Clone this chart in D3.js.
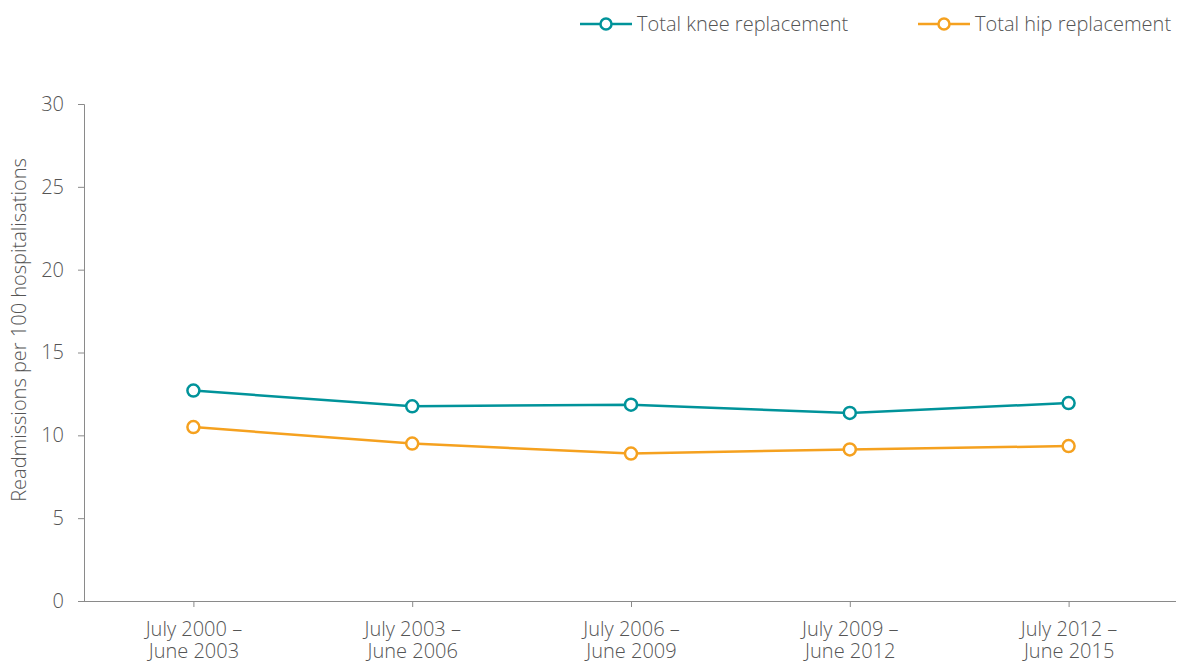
<!DOCTYPE html>
<html>
<head>
<meta charset="utf-8">
<script src="https://cdn.jsdelivr.net/npm/d3@7"></script>
<style>
  body { margin: 0; background: #fff; }
  svg text { font-family: "Open Sans", Roboto, sans-serif; font-weight: 300; fill: #555; }
</style>
</head>
<body>
<svg id="chart" width="1178" height="661"></svg>
<script>
// data
const periods = [
    ["July 2000 –", "June 2003"],
    ["July 2003 –", "June 2006"],
    ["July 2006 –", "June 2009"],
    ["July 2009 –", "June 2012"],
    ["July 2012 –", "June 2015"]
];
const kneeValues = [12.7, 11.75, 11.85, 11.35, 11.95];
const hipValues = [10.5, 9.5, 8.9, 9.15, 9.35];
const seriesNames = ["Total knee replacement", "Total hip replacement"];
const seriesColors = ["#00939a", "#f5a11f"];
const yTicks = [0, 5, 10, 15, 20, 25, 30];

const svg = d3.select("#chart");
const margin = { left: 84, right: 0 };
const W = 1178;
const FS = "20px";

const x = d3.scalePoint()
    .domain(d3.range(periods.length))
    .range([margin.left, W - margin.right])
    .padding(0.5);
const y = d3.scaleLinear().domain([0, 30]).range([601, 104]);

// y axis
const yAxis = svg.append("g")
    .attr("transform", `translate(${margin.left},0)`)
    .call(d3.axisLeft(y).tickValues(yTicks).tickSize(6).tickPadding(14));
yAxis.select(".domain").attr("stroke", "#8a8a8a");
yAxis.selectAll(".tick line").attr("stroke", "#8a8a8a");
yAxis.selectAll(".tick text").style("font-size", FS).attr("fill", "#555");

// x axis
const xAxis = svg.append("g")
    .attr("transform", `translate(0,${y(0)})`)
    .call(d3.axisBottom(x).tickSize(6).tickFormat(() => ""));
xAxis.select(".domain").attr("d", `M${margin.left - 6},0.5H${W - 2}`).attr("stroke", "#8a8a8a");
xAxis.selectAll(".tick line").attr("stroke", "#8a8a8a");
xAxis.selectAll(".tick").each(function (d) {
    const t = d3.select(this).append("text")
        .attr("text-anchor", "middle")
        .attr("fill", "#555")
        .style("font-size", FS);
    periods[d].forEach((line, i) => {
        t.append("tspan").attr("x", 0).attr("y", 35 + i * 22).text(line);
    });
});

// y title
svg.append("text")
    .attr("transform", `translate(26,330) rotate(-90)`)
    .attr("text-anchor", "middle")
    .style("font-size", FS)
    .text("Readmissions per 100 hospitalisations");

// lines
const line = d3.line().x((d, i) => x(i)).y(d => y(d));
[kneeValues, hipValues].forEach((vals, s) => {
    const g = svg.append("g");
    g.append("path")
        .attr("d", line(vals))
        .attr("fill", "none")
        .attr("stroke", seriesColors[s])
        .attr("stroke-width", 2.5);
    g.selectAll("circle").data(vals).join("circle")
        .attr("cx", (d, i) => x(i))
        .attr("cy", d => y(d))
        .attr("r", 6)
        .attr("fill", "#fff")
        .attr("stroke", seriesColors[s])
        .attr("stroke-width", 2.5);
});

// legend
const legendX = [580, 918];
seriesNames.forEach((name, s) => {
    const g = svg.append("g").attr("transform", `translate(${legendX[s]},24)`);
    g.append("line").attr("x1", 0).attr("x2", 52)
        .attr("stroke", seriesColors[s]).attr("stroke-width", 2.5);
    g.append("circle").attr("cx", 26).attr("r", 5.5)
        .attr("fill", "#fff").attr("stroke", seriesColors[s]).attr("stroke-width", 2.5);
    g.append("text").attr("x", 57).attr("dy", "0.35em")
        .style("font-size", FS).text(name);
});
</script>
</body>
</html>
